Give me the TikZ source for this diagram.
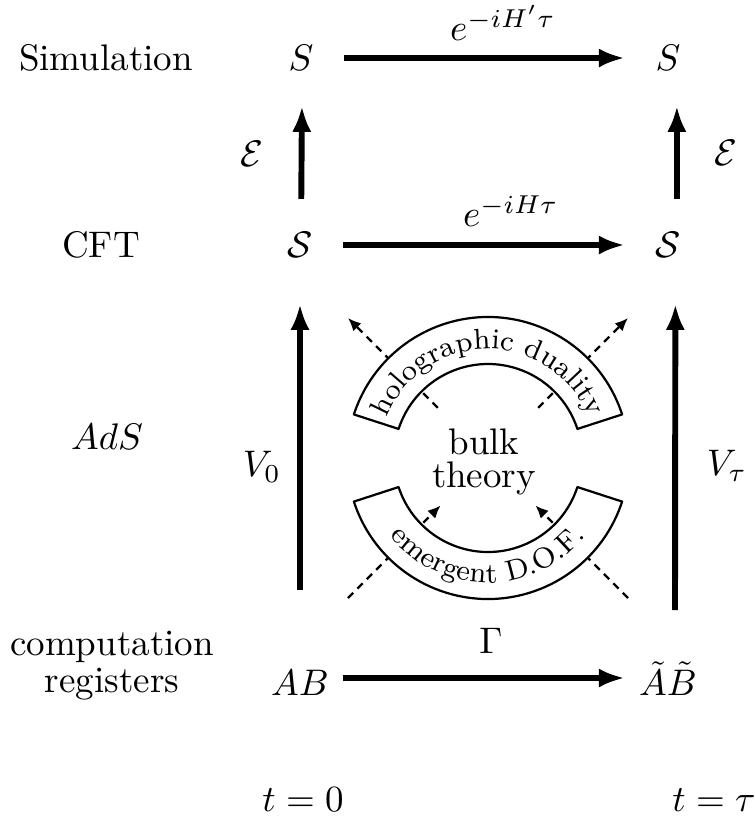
\documentclass[tikz,border=0pt]{standalone}
\usepackage{amsmath,amssymb}
\usetikzlibrary{arrows.meta,decorations.text}

\begin{document}
\begin{tikzpicture}[x=0.95cm,y=0.95cm,line join=round,
  state/.style={minimum width=23pt},
  trans/.style={ultra thick,-{Latex[length=7pt,width=5.2pt]}},
  lift/.style={trans,shorten >=6pt,shorten <=5.5pt},
  flow/.style={semithick,dash pattern=on 2pt off 1.6pt,-{Latex[length=3.5pt,width=3pt]}},
  band/.style={semithick,fill=white}]
\useasboundingbox (0,0) rectangle (7.55,-8.20);
% level labels
\node (simlab) at (1.06,-0.58) {Simulation};
\node (cftlab) at (1.01,-2.45) {CFT};
\node (adslab) at (1.07,-4.37) {$AdS$};
\node[align=center] (reglab) at (1.12,-6.66) {computation\\[-2pt]registers};
% states
\node[state] (siml) at (3.01,-0.58) {$S$};
\node[state] (simr) at (6.68,-0.58) {$S$};
\node[state] (cftl) at (3.00,-2.45) {$\mathcal{S}$};
\node[state] (cftr) at (6.68,-2.45) {$\mathcal{S}$};
\node[state,text height=9.5pt] (regl) at (3.00,-6.78) {$AB$};
\node[state,text height=9.5pt] (regr) at (6.68,-6.78) {$\tilde{A}\tilde{B}$};
\coordinate (v0start) at (3.00,-5.90);
\coordinate (vtstart) at (6.75,-6.10);
% maps
\draw[trans] (siml) -- (simr);
\draw[trans] (cftl) -- (cftr);
\draw[trans] (regl) -- (regr);
\draw[lift] ([xshift=0.3pt]cftl.north) -- ([xshift=0.3pt]siml.south);
\draw[lift] ([xshift=2.4pt]cftr.north) -- ([xshift=2.4pt]simr.south);
\draw[trans,shorten >=9pt] (v0start) -- (cftl.south);
\draw[trans,shorten >=9pt] (vtstart) -- ([xshift=2pt]cftr.south);
\node (hsim) at (5.03,-0.23) {$e^{-iH'\tau}$};
\node (hcft) at (5.11,-2.11) {$e^{-iH\tau}$};
\node (gam) at (4.91,-6.41) {$\Gamma$};
\node (encl) at (2.52,-1.54) {$\mathcal{E}$};
\node (encr) at (7.26,-1.53) {$\mathcal{E}$};
\node (v0) at (2.62,-4.67) {$V_0$};
\node (vt) at (7.27,-4.66) {$V_\tau$};
% bulk
\node[align=center,inner sep=0pt] (bulk) at (4.84,-4.62) {bulk\\[-3pt]theory};
\begin{scope}[shift={(4.88,-4.58)}]
\draw[flow] (135:0.71) -- (135:1.98);
\draw[flow] (45:0.71) -- (45:1.98);
\draw[flow] (225:1.98) -- (225:0.67);
\draw[flow] (315:1.98) -- (315:0.67);
\draw[band] (18:1.41) arc (18:162:1.41) -- (162:0.94) arc (162:18:0.94) -- cycle;
\draw[band] (198:1.41) arc (198:342:1.41) -- (342:0.94) arc (342:198:0.94) -- cycle;
\path[decorate,decoration={text along path,text align=center,
  text={|\fontsize{7.8}{9}\selectfont|holographic duality}}] (165:1.09) arc (165:15:1.09);
\path[decorate,decoration={text along path,text align=center,
  text={|\fontsize{7.8}{9}\selectfont|emergent D.O.F.}}] (195:1.25) arc (195:345:1.25);
\end{scope}
% times
\node (t0) at (3.03,-8.00) {$t=0$};
\node (ttau) at (7.14,-8.00) {$t=\tau$};
\end{tikzpicture}
\end{document}
